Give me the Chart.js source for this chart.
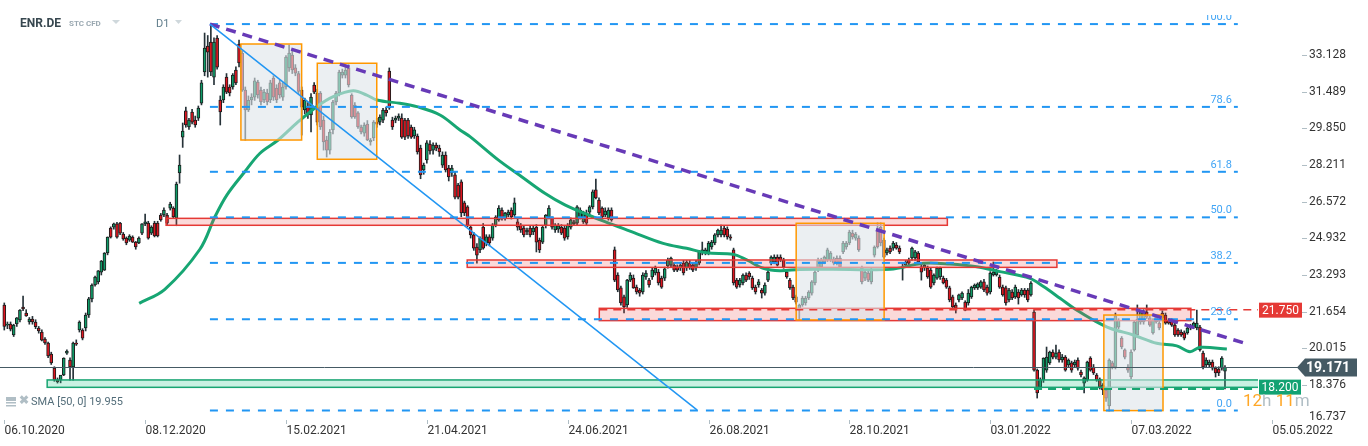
<!DOCTYPE html>
<html>
<head>
<meta charset="utf-8">
<script src="https://cdn.jsdelivr.net/npm/chart.js@4.4.1/dist/chart.umd.min.js"></script>
<style>
  html, body { margin: 0; padding: 0; background: #fff; }
  #wrap { position: relative; width: 1368px; height: 446px; }
</style>
</head>
<body>
<div id="wrap"><canvas id="chart"></canvas></div>
<script>
// daily candles, [open, high, low, close]
const CANDLES = [
  // 0
  [21.96,22.05,20.84,21.00],[21.06,21.20,20.90,21.11],[21.11,21.20,20.80,20.88],[20.62,21.10,20.55,21.06],[21.11,21.40,21.00,21.38],
  [21.29,21.75,21.20,21.73],[21.87,22.36,21.70,21.78],[21.60,21.75,21.45,21.47],[21.20,21.40,21.10,21.33],[21.33,21.45,21.10,21.20],
  [21.20,21.30,20.90,20.99],[20.93,21.00,20.70,20.80],[20.75,20.85,20.35,20.39],[20.44,20.50,20.20,20.26],[20.26,20.30,19.60,19.68],
  [19.77,19.85,19.30,19.37],[19.14,19.20,18.55,18.61],[18.61,18.70,18.47,18.52],[18.61,18.75,18.48,18.83],[18.83,19.60,18.80,19.59],
  [19.81,19.95,19.75,19.90],[19.50,19.60,18.60,19.19],[19.19,20.30,18.60,20.26],[20.26,20.40,20.15,20.21],[20.84,21.25,20.75,21.20],
  [20.84,20.90,20.40,20.48],[20.93,21.60,20.80,21.51],[21.51,22.30,21.40,22.23],[22.23,22.90,22.10,22.85],[22.85,23.25,22.80,23.21],
  [22.99,23.50,22.90,23.48],[23.43,23.95,23.30,23.92],[23.52,24.30,23.50,24.28],[24.28,25.00,24.20,24.99],[25.40,25.45,24.95,24.99],
  [25.44,25.62,25.35,25.58],[25.58,25.65,24.95,24.99],[25.62,25.65,25.10,25.17],[25.13,25.20,24.85,24.91],[24.95,25.00,24.65,24.73],
  [24.86,25.10,24.80,25.04],[24.99,25.05,24.75,24.77],[24.77,24.80,24.45,24.55],[24.73,25.00,24.70,24.95],[25.17,25.60,25.10,25.58],
  [25.58,26.02,25.50,25.67],[25.62,25.70,24.90,24.95],[25.17,25.50,25.10,25.44],[25.62,25.70,25.00,25.04],[25.62,25.70,25.00,25.04],
  [25.98,26.05,25.70,25.76],[25.98,26.30,25.90,26.20],
  // 52
  [25.98,26.05,25.55,25.62],[26.29,26.55,26.20,26.47],[26.29,26.35,25.85,25.89],[25.84,27.45,25.50,27.36],[27.86,28.66,27.40,28.21],
  [29.46,30.09,29.00,29.73],[30.63,30.80,29.90,30.00],[29.91,30.30,29.80,30.22],[30.58,30.70,30.05,30.13],[30.22,30.40,29.90,30.00],
  [30.31,30.85,30.20,30.76],[30.98,32.00,30.90,31.88],[32.37,34.11,32.20,33.44],[33.53,34.00,32.14,33.26],[33.71,34.51,32.20,32.37],
  [32.14,33.90,31.80,33.71],[33.89,34.00,32.50,32.59],[31.12,31.30,30.00,30.58],[31.12,31.80,31.00,31.70],[32.14,32.30,31.40,31.47],
  [31.70,31.80,31.30,31.43],[31.70,32.30,31.60,32.23],[32.46,32.60,31.80,31.88],[33.62,33.80,32.60,32.77],[33.22,33.30,31.50,31.56],
  [31.56,31.70,29.33,30.67],[30.67,31.30,30.60,31.10],
  // 79
  [31.12,31.40,30.90,31.25],[31.25,32.10,31.10,31.97],[31.92,32.00,31.20,31.34],[31.56,31.70,30.90,31.03],[31.12,31.60,31.00,31.47],
  [31.43,31.60,30.90,31.03],[31.12,32.00,31.00,31.88],[32.10,32.20,31.10,31.25],[31.65,31.80,31.00,31.12],[31.88,32.00,31.20,31.34],
  [31.25,31.90,31.10,31.70],[31.70,33.10,31.60,33.04],[32.55,33.57,32.40,33.22],[33.13,33.35,32.30,32.46],[32.55,32.70,32.20,32.32],
  [32.30,32.40,31.40,31.50],[31.56,31.70,29.55,30.80],[30.67,31.20,30.50,31.12],[30.80,31.00,30.30,30.45],[30.45,31.40,29.69,31.25],
  [31.79,31.90,31.40,31.47],
  // 100
  [31.43,31.60,30.00,30.13],[31.43,31.50,29.80,29.91],[30.22,30.40,28.88,29.24],[29.33,29.50,28.57,28.88],[28.88,29.80,28.70,29.69],
  [29.78,31.10,29.60,31.03],[31.03,31.50,30.90,31.43],[31.43,32.45,31.30,32.37],[32.23,32.50,32.10,32.37],[32.23,32.68,32.10,32.46],
  [32.55,32.70,31.70,31.79],[31.34,31.40,30.30,30.36],[30.89,31.00,30.30,30.36],[30.54,30.60,29.85,29.91],[29.91,30.00,29.60,29.69],
  [29.64,30.10,29.50,30.00],[30.04,30.20,29.30,29.33],[29.24,29.40,29.10,29.33],[29.42,30.20,29.30,30.13],[30.13,30.30,29.90,30.04],
  [30.13,30.45,30.00,30.36],[30.22,30.75,30.10,30.67],[30.67,30.80,30.40,30.54],[32.41,32.55,30.70,30.76],[30.22,30.35,29.80,29.91],
  [30.22,30.40,30.10,30.31],[30.31,30.50,30.20,30.40],[30.31,30.50,29.40,29.46],[30.22,30.30,29.35,29.46],[30.22,30.30,29.40,29.51],
  [29.91,30.00,29.40,29.46],[29.51,29.90,29.40,29.78],[29.51,29.60,28.70,28.80],[28.97,29.10,27.60,27.77],[27.99,28.30,27.80,28.21],
  [28.44,29.30,28.30,29.20],[29.15,29.30,28.70,28.84],[28.88,29.20,28.70,29.10],[29.10,29.20,28.85,28.97],[28.97,29.10,28.60,28.80],
  // 140
  [28.21,28.80,28.10,28.66],[28.66,28.80,27.90,27.99],[28.08,28.20,27.50,27.68],[27.86,28.20,27.70,28.08],[27.77,27.90,26.70,26.78],
  [27.32,27.40,26.70,26.78],[27.46,27.55,25.90,26.07],[26.52,26.60,25.95,26.07],[26.34,26.40,25.45,25.53],[25.44,25.50,24.95,25.09],
  [25.09,25.20,24.40,24.50],[24.55,24.70,23.83,24.19],[24.42,25.00,24.30,24.95],[25.44,25.60,24.45,24.50],[24.73,25.10,24.60,25.00],
  [25.00,25.10,24.60,24.73],[24.95,25.60,24.85,25.53],[25.53,25.95,25.45,25.89],[25.76,26.40,25.70,26.29],[26.20,26.30,25.75,25.84],
  [25.84,26.10,25.75,26.07],[25.98,26.20,25.90,26.11],[26.20,26.30,25.80,25.89],[25.98,26.74,25.90,26.52],[25.67,25.80,25.30,25.44],
  [25.53,25.60,25.20,25.31],[25.40,25.50,25.00,25.09],[25.22,25.40,25.10,25.31],[25.40,25.50,25.00,25.09],[25.22,25.50,25.10,25.40],
  [25.44,25.55,24.33,24.77],[24.86,24.95,24.30,24.42],[24.77,25.50,24.70,25.44],[25.53,26.00,25.40,25.98],[25.89,26.40,25.80,26.29],
  [25.84,25.90,25.35,25.44],[25.31,25.60,25.20,25.53],[25.35,25.60,25.20,25.50],[25.44,25.55,25.10,25.17],[25.40,25.50,24.85,24.95],
  // 180
  [25.00,25.60,24.90,25.53],[25.44,25.85,25.35,25.76],[25.58,25.75,25.50,25.67],[25.62,26.40,25.55,26.34],[25.84,26.30,25.80,26.20],
  [25.67,26.15,25.60,26.07],[26.07,26.20,25.55,25.62],[26.11,26.40,26.00,26.34],[26.34,27.10,26.25,27.01],[27.10,27.59,26.70,26.74],
  [26.65,26.75,26.00,26.07],[26.29,26.35,25.80,25.89],[25.98,26.30,25.90,26.16],[25.84,26.30,25.75,26.20],[26.20,26.30,25.70,25.76],
  [24.42,24.55,23.00,23.07],[23.30,23.40,22.55,22.63],[22.72,22.80,21.95,22.05],[22.32,22.40,21.60,21.87],[21.96,23.10,21.85,23.07],
  [23.07,23.40,23.00,23.30],
  // 201
  [23.16,23.30,22.70,22.72],[22.76,22.85,22.45,22.54],[22.63,22.70,22.35,22.49],[22.54,23.40,22.45,23.30],[23.21,23.50,23.10,23.39],
  [23.07,23.15,22.75,22.85],[23.21,23.60,23.10,23.52],[23.39,23.70,23.30,23.61],[23.43,23.55,22.85,22.94],[23.16,23.25,22.70,22.76],
  [23.16,23.65,23.05,23.57],[23.70,24.05,23.60,23.97],[23.74,24.10,23.65,24.06],[23.74,23.85,23.45,23.52],[23.66,23.75,23.45,23.52],
  [23.61,23.85,23.50,23.74],[23.83,23.95,23.30,23.39],[23.61,23.95,23.50,23.88],[23.83,23.95,23.55,23.61],[23.74,23.85,23.45,23.52],
  [23.61,23.95,23.50,23.83],[23.83,24.40,23.75,24.33],[24.28,24.77,24.20,24.42],[24.30,24.50,24.20,24.42],[24.28,24.80,24.20,24.73],
  [24.55,24.85,24.45,24.77],[24.73,25.15,24.65,25.09],[25.09,25.35,25.00,25.31],[25.09,25.53,25.00,25.31],[25.40,25.50,25.00,25.09],
  [25.35,25.45,24.90,25.00],[25.00,25.10,24.85,24.95],[24.42,24.50,22.85,22.94],[23.07,23.15,22.70,22.76],[22.85,23.15,22.75,23.07],
  [22.94,23.35,22.85,23.30],[23.30,23.40,23.00,23.07],[23.39,23.45,23.10,23.21],[23.16,23.25,22.65,22.72],[22.76,22.85,22.45,22.54],
  [22.85,23.10,22.75,22.99],[22.63,22.70,22.27,22.49],[22.49,22.95,22.40,22.85],[23.07,23.50,23.00,23.43],[23.83,24.15,23.75,24.10],
  [23.88,24.20,23.80,24.10],[24.10,24.20,23.70,23.74],[24.10,24.20,23.90,23.97],[23.97,24.05,23.60,23.66],[23.43,23.50,23.15,23.21],
  [23.07,23.15,22.65,22.72],[22.76,22.85,22.20,22.27],[22.32,22.40,22.00,22.09],
  // 254
  [21.73,22.00,21.29,21.96],[21.96,22.35,21.90,22.27],[22.05,22.35,21.95,22.27],[22.27,22.60,22.20,22.54],[22.49,23.05,22.40,22.99],
  [22.94,23.50,22.85,23.43],[23.52,24.05,23.45,23.97],[23.66,24.05,23.55,23.97],[23.88,24.15,23.80,24.10],[23.97,24.50,23.90,24.42],
  [23.97,24.35,23.90,24.28],[24.01,24.10,23.75,23.83],[24.06,24.15,23.75,23.83],[24.06,24.15,23.60,23.66],[24.33,24.80,24.25,24.73],
  [24.55,24.80,24.45,24.73],[24.73,25.30,24.65,25.22],[25.17,25.30,24.90,25.00],[24.95,25.20,24.85,25.13],[24.95,25.05,24.35,24.42],
  [23.61,23.70,22.90,22.99],[23.16,23.50,23.05,23.43],[23.39,23.50,23.00,23.07],[22.99,23.60,22.90,23.52],[24.19,24.60,24.10,24.55],
  [25.31,25.62,24.50,24.55],[25.44,25.62,24.60,24.73],[24.86,24.95,24.05,24.10],[24.28,24.50,24.20,24.42],[24.50,24.60,24.25,24.33],
  [24.50,24.80,24.40,24.73],[24.64,24.75,24.45,24.50],[24.50,24.60,24.25,24.33],[23.66,23.80,23.07,23.61],[23.74,23.95,23.65,23.88],
  [23.97,24.05,23.75,23.83],[24.06,24.55,23.95,24.50],[24.06,24.40,23.95,24.33],[24.28,24.35,23.80,23.88],[23.66,23.75,23.07,23.43],
  [23.61,23.85,23.50,23.74],[23.61,23.70,23.15,23.21],[23.52,23.60,22.70,22.76],[22.94,23.35,22.85,23.30],[23.16,23.65,23.10,23.61],
  [23.21,23.65,23.10,23.61],[23.16,23.25,22.90,22.94],[23.07,23.15,22.70,22.76],[22.72,22.80,22.10,22.18],[22.32,22.40,21.80,21.87],
  [21.96,22.05,21.60,21.82],[22.18,22.45,22.10,22.41],[22.27,22.55,22.20,22.49],[22.09,22.15,21.70,21.73],[22.05,22.65,21.95,22.49],
  // 309
  [22.32,22.80,22.25,22.76],[22.72,22.90,22.65,22.85],[22.72,22.95,22.65,22.90],[22.76,23.05,22.70,22.99],[22.99,23.10,22.55,22.63],
  [22.76,22.85,22.40,22.49],[22.54,23.45,22.45,23.39],[23.30,23.88,23.25,23.43],[23.30,23.55,23.25,23.48],[23.21,23.30,22.70,22.76],
  [22.76,22.85,22.35,22.41],[22.72,22.80,21.95,22.05],[22.18,22.70,22.10,22.63],[22.54,22.65,22.20,22.27],[22.32,22.85,22.25,22.76],
  [22.54,22.65,22.00,22.27],[22.41,22.70,22.35,22.63],[22.63,22.70,22.30,22.41],[22.63,22.70,22.10,22.18],[22.41,23.00,22.35,22.94],
  // 329
  [21.64,21.73,19.00,19.05],[19.05,19.10,17.80,18.03],[18.29,18.70,18.20,18.61],[18.61,19.60,18.50,19.59],[19.05,20.08,18.95,19.63],
  [19.37,19.90,19.30,19.86],[19.86,19.95,19.55,19.63],[19.63,20.17,19.55,19.81],[19.86,19.95,19.40,19.50],[19.50,19.75,19.40,19.63],
  [19.63,19.70,19.00,19.05],[19.28,19.55,19.20,19.50],[19.37,19.45,18.95,19.05],[19.28,19.50,19.20,19.41],[19.50,19.60,19.05,19.14],
  [18.96,19.05,18.75,18.83],[18.47,18.75,18.03,18.70],[18.61,19.45,18.55,19.41],[19.59,19.65,19.00,19.05],[19.19,19.30,18.85,18.92],
  [18.83,18.90,18.55,18.61],[18.65,18.70,18.20,18.29],[18.38,18.45,17.95,18.16],[18.16,18.25,17.65,17.80],[17.45,19.55,17.23,19.50],
  [19.37,19.45,19.10,19.19],[19.19,21.60,19.10,21.47],[20.97,21.35,20.90,21.29],[20.48,20.55,20.00,20.08],[19.95,20.00,19.55,19.63],
  [19.19,19.30,18.95,19.05],[18.74,19.95,18.65,19.86],[19.95,21.25,19.90,21.20],[20.62,21.96,20.55,21.33],[21.20,21.70,21.10,21.64],
  [21.20,21.75,21.10,21.69],[21.64,21.96,21.35,21.42],[21.38,21.45,21.00,21.06],[20.71,21.35,20.65,21.29],[21.42,21.50,21.15,21.20],
  [21.15,21.25,20.85,20.93],[21.60,21.70,21.30,21.38],[21.51,21.60,21.10,21.15],[21.29,21.35,21.10,21.15],[21.29,21.35,21.00,21.06],
  [21.06,21.15,20.55,20.62],[20.84,20.90,20.55,20.62],[20.75,20.85,20.55,20.62],[20.71,20.80,20.40,20.48],[20.71,21.00,20.65,20.93],
  [20.93,21.10,20.85,21.02],[20.97,21.20,20.90,21.15],[20.93,21.73,20.85,21.15],[20.97,21.05,19.90,19.95],[19.81,19.90,19.10,19.19],
  [19.28,19.60,19.20,19.50],[19.28,19.50,19.20,19.41],[19.41,19.50,19.05,19.14],[19.14,19.20,18.74,18.92],[19.10,19.20,18.80,18.92],
  [19.14,19.65,19.05,19.59],[19.00,19.25,18.21,19.171]
];

// SMA(50): [candle index, value]
const SMA = [
  [43.1,22.03],[51.3,22.66],[62.5,24.45],[67.3,25.90],[71.1,26.87],[76.7,27.89],[81.7,28.74],[87.5,29.33],
  [93.4,30.08],[99.8,30.82],[105.1,31.27],[111.5,31.53],[115.8,31.34],[119,31.12],[126.4,30.97],[131.8,30.82],
  [139.2,30.45],[145.6,29.78],[148.8,29.48],[157.8,28.44],[165.3,27.69],[172.7,26.95],[179.1,26.43],[186.6,25.98],
  [191.9,25.68],[199.9,25.26],[210.5,24.71],[218,24.49],[224.4,24.29],[232.9,24.22],[237.2,23.97],[242.5,23.60],
  [247.8,23.49],[254.2,23.55],[270.2,23.55],[283,23.55],[293.6,23.82],[302.1,23.79],[310.7,23.67],[318.1,23.45],
  [327.7,23.15],[332,22.78],[337.3,22.26],[342.6,21.73],[347.9,21.29],[353.3,20.92],[360.7,20.62],[368.2,20.25],
  [374.6,20.13],[378.8,19.87],[382.1,20.07],[390.6,19.99]
];

const DATE_TICKS = [0, 45, 90, 135, 180, 225, 270, 315, 360, 405];
const DATE_LABELS = ['06.10.2020','08.12.2020','15.02.2021','21.04.2021','24.06.2021','26.08.2021','28.10.2021','03.01.2022','07.03.2022','05.05.2022'];
const PRICE_TICKS = [33.128, 31.489, 29.850, 28.211, 26.572, 24.932, 23.293, 21.654, 20.015, 18.376, 16.737];

// fibonacci retracement from the high to the low
const FIB_LABELS = ['100.0', '78.6', '61.8', '50.0', '38.2', '23.6', '0.0'];
const FIB_VALUES = [34.51, 30.81, 27.91, 25.875, 23.84, 21.32, 17.24];
const FIB_SPAN = [65.7, 394.1];

// trend lines: [x1, y1, x2, y2]
const DOWN_TREND = [65.7, 34.51, 397.0, 20.22];
const FALL_LINE = [65.7, 34.51, 221.3, 17.27];

// zones: [xFrom, xTo, low, high]
const RED_ZONES = [[51.7, 301.3, 25.52, 25.83], [147.9, 336.3, 23.64, 23.97], [190.1, 379.1, 21.26, 21.81]];
const GREEN_ZONE = [13.7, 401, 18.28, 18.61];
const BOXES = [[75.6, 95.0, 29.33, 33.62], [100.0, 119.0, 28.47, 32.76], [253.0, 281.1, 21.29, 25.61], [351.3, 370.2, 17.24, 21.51]];

const RESIST_LEVEL = 21.750;
const SUPPORT_LEVEL = 18.200;
const LAST_PRICE = 19.171;
const SMA_LAST = '19.955';

const UP = '#0f9b68';
const DOWN = '#dd1620';
const FONT = 'Roboto, "Noto Sans", sans-serif';

function seg(line) {
  return [{ x: line[0], y: line[1] }, { x: line[2], y: line[3] }];
}

const fibSets = FIB_VALUES.map(v => ({
  type: 'line',
  data: [{ x: FIB_SPAN[0], y: v }, { x: FIB_SPAN[1], y: v }],
  borderColor: '#2196f3',
  borderWidth: 2,
  borderDash: [8, 8],
  pointRadius: 0,
  order: 2,
}));

const overlay = {
  id: 'overlay',
  afterDatasetDraw(chart, args) {
    if (args.index !== 2) return;
    const { ctx, chartArea: a, scales: { x, y } } = chart;
    ctx.save();
    ctx.beginPath();
    ctx.rect(a.left, a.top, a.width, a.height);
    ctx.clip();

    const box = (z, fill, stroke, lw) => {
      const x1 = x.getPixelForValue(z[0]), x2 = x.getPixelForValue(z[1]);
      const y1 = y.getPixelForValue(z[3]), y2 = y.getPixelForValue(z[2]);
      ctx.fillStyle = fill;
      ctx.fillRect(x1, y1, x2 - x1, y2 - y1);
      ctx.strokeStyle = stroke;
      ctx.lineWidth = lw;
      ctx.strokeRect(x1, y1, x2 - x1, y2 - y1);
    };

    RED_ZONES.forEach(z => box(z, 'rgba(239,83,80,0.22)', '#e53935', 1.5));
    box(GREEN_ZONE, 'rgba(38,198,140,0.25)', '#18a572', 1.5);
    BOXES.forEach(z => box(z, 'rgba(222,228,234,0.6)', '#ff9800', 1.5));

    // alert levels
    ctx.setLineDash([8, 6]);
    ctx.lineWidth = 1.5;
    ctx.strokeStyle = '#e53935';
    let ly = y.getPixelForValue(RESIST_LEVEL);
    ctx.beginPath();
    ctx.moveTo(x.getPixelForValue(RED_ZONES[2][0]), ly);
    ctx.lineTo(a.right, ly);
    ctx.stroke();
    ctx.strokeStyle = '#18a572';
    ctx.lineWidth = 2;
    ly = y.getPixelForValue(SUPPORT_LEVEL);
    ctx.beginPath();
    ctx.moveTo(x.getPixelForValue(329), ly);
    ctx.lineTo(a.right, ly);
    ctx.stroke();
    ctx.setLineDash([]);

    // fib labels
    ctx.font = '11px ' + FONT;
    ctx.fillStyle = '#42a5f5';
    ctx.textAlign = 'right';
    ctx.textBaseline = 'alphabetic';
    FIB_VALUES.forEach((v, i) => {
      ctx.fillText(FIB_LABELS[i], x.getPixelForValue(392.2), y.getPixelForValue(v) - 4);
    });
    ctx.restore();
  },
  afterDraw(chart) {
    const { ctx, chartArea: a, scales: { x, y } } = chart;
    ctx.save();

    // last price line
    const py = Math.round(y.getPixelForValue(LAST_PRICE)) + 0.5;
    ctx.strokeStyle = '#455a64';
    ctx.lineWidth = 1;
    ctx.beginPath();
    ctx.moveTo(a.left, py);
    ctx.lineTo(1298, py);
    ctx.stroke();

    // price axis
    ctx.font = '12px ' + FONT;
    ctx.textAlign = 'left';
    ctx.textBaseline = 'middle';
    PRICE_TICKS.forEach(v => {
      const ty = y.getPixelForValue(v);
      const shown = Math.min(ty, 417);
      if (ty <= 418) {
        ctx.strokeStyle = '#b0bec5';
        ctx.beginPath();
        ctx.moveTo(1302, Math.round(ty) + 0.5);
        ctx.lineTo(1307, Math.round(ty) + 0.5);
        ctx.stroke();
      }
      ctx.fillStyle = '#333';
      ctx.fillText(v.toFixed(3), 1309, shown);
    });

    // date axis
    DATE_TICKS.forEach((d, i) => {
      const tx = Math.round(x.getPixelForValue(d)) + 0.5;
      ctx.strokeStyle = '#b0bec5';
      ctx.beginPath();
      ctx.moveTo(tx, 420);
      ctx.lineTo(tx, 424);
      ctx.stroke();
      ctx.fillStyle = '#333';
      ctx.textAlign = 'left';
      ctx.fillText(DATE_LABELS[i], tx, 431);
    });

    // price tags
    const tag = (yc, x1, x2, color, text, bold) => {
      ctx.fillStyle = color;
      ctx.fillRect(x1, yc - 7.5, x2 - x1, 15);
      ctx.fillStyle = '#fff';
      ctx.font = (bold ? 'bold 14px ' : '12px ') + FONT;
      ctx.textAlign = 'center';
      ctx.fillText(text, (x1 + x2) / 2, yc + 0.5);
    };
    tag(y.getPixelForValue(RESIST_LEVEL) + 0.5, 1259, 1302, '#e53935', RESIST_LEVEL.toFixed(3));
    tag(y.getPixelForValue(SUPPORT_LEVEL) - 2, 1259, 1301, '#12a273', SUPPORT_LEVEL.toFixed(3));

    // last price tag with arrow
    ctx.fillStyle = '#455a64';
    ctx.beginPath();
    ctx.moveTo(1297, py);
    ctx.lineTo(1305, py - 9);
    ctx.lineTo(1357, py - 9);
    ctx.lineTo(1357, py + 9);
    ctx.lineTo(1305, py + 9);
    ctx.closePath();
    ctx.fill();
    ctx.fillStyle = '#fff';
    ctx.font = 'bold 14px ' + FONT;
    ctx.textAlign = 'center';
    ctx.fillText(LAST_PRICE.toFixed(3), 1328, py + 0.5);

    // header
    ctx.textAlign = 'left';
    ctx.fillStyle = '#37474f';
    ctx.font = 'bold 12px ' + FONT;
    ctx.fillText('ENR.DE', 20, 24);
    ctx.fillStyle = '#9aa8b1';
    ctx.font = 'bold 8px ' + FONT;
    ctx.fillText('STC CFD', 69, 24);
    ctx.fillStyle = '#37474f';
    ctx.font = '11px ' + FONT;
    ctx.fillStyle = '#607d8b';
    ctx.fillText('D1', 156, 24);
    ctx.fillStyle = '#cfd8dc';
    [[112, 120], [175, 182]].forEach(t => {
      ctx.beginPath();
      ctx.moveTo(t[0], 20);
      ctx.lineTo(t[1], 20);
      ctx.lineTo((t[0] + t[1]) / 2, 24);
      ctx.closePath();
      ctx.fill();
    });

    // indicator legend
    ctx.fillStyle = '#b0bec5';
    ctx.fillRect(6, 397, 10, 4);
    ctx.fillRect(6, 402, 10, 1.5);
    ctx.fillRect(6, 405, 10, 1.5);
    ctx.font = 'bold 12px ' + FONT;
    ctx.fillText('\u2716', 19, 401);
    ctx.fillStyle = '#546e7a';
    ctx.font = '11px ' + FONT;
    ctx.fillText('SMA [50, 0] ' + SMA_LAST, 31, 402);

    // candle countdown
    ctx.font = '17px ' + FONT;
    let cx = 1243;
    [['12', '#ffa726'], ['h ', '#b0bec5'], ['11', '#ffa726'], ['m', '#b0bec5']].forEach(p => {
      ctx.fillStyle = p[1];
      ctx.fillText(p[0], cx, 402);
      cx += ctx.measureText(p[0]).width;
    });
    ctx.restore();
  }
};

new Chart(document.getElementById('chart'), {
  type: 'bar',
  data: {
    datasets: [
      {
        data: CANDLES.map((c, i) => ({ x: i, y: [c[2], c[1]] })),
        backgroundColor: '#263238',
        barThickness: 1,
        grouped: false,
        order: 10,
      },
      {
        data: CANDLES.map((c, i) => ({ x: i, y: [c[0], c[3]] })),
        backgroundColor: CANDLES.map(c => c[3] >= c[0] ? UP : DOWN),
        borderColor: '#1c1c1c',
        borderWidth: 1,
        borderSkipped: false,
        barThickness: 3,
        grouped: false,
        order: 9,
      },
      {
        type: 'line',
        data: SMA.map(p => ({ x: p[0], y: p[1] })),
        borderColor: '#17a673',
        borderWidth: 3,
        pointRadius: 0,
        tension: 0.35,
        order: 8,
      },
      ...fibSets,
      {
        type: 'line',
        data: seg(FALL_LINE),
        borderColor: '#2196f3',
        borderWidth: 1.5,
        pointRadius: 0,
        order: 1,
      },
      {
        type: 'line',
        data: seg(DOWN_TREND),
        borderColor: '#673ab7',
        borderWidth: 3.5,
        borderDash: [10, 7],
        pointRadius: 0,
        order: 1,
      },
    ],
  },
  options: {
    responsive: true,
    maintainAspectRatio: false,
    animation: false,
    events: [],
    layout: { padding: { left: 0, right: 110, top: 15, bottom: 26 } },
    plugins: { legend: { display: false }, tooltip: { enabled: false } },
    scales: {
      x: { type: 'linear', display: false, min: -1.37, max: 400.55, offset: false },
      y: { type: 'linear', display: false, min: 16.82, max: 34.916 },
    },
  },
  plugins: [overlay],
});
</script>
</body>
</html>
